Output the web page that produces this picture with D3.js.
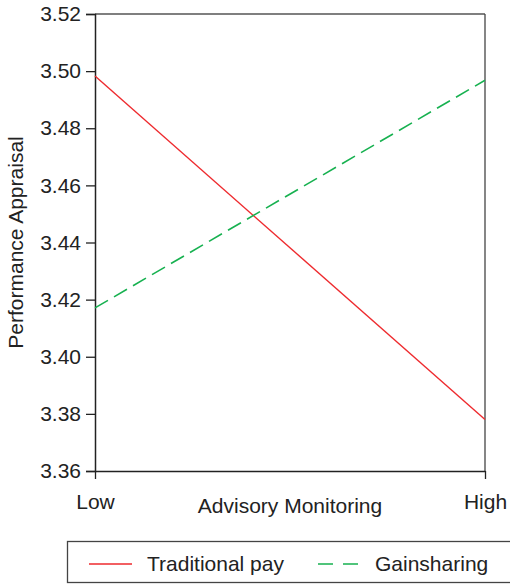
<!DOCTYPE html>
<html>
<head>
<meta charset="utf-8">
<script src="https://cdn.jsdelivr.net/npm/d3@7"></script>
<style>
body { margin: 0; background: #fff; }
text { font-family: "Liberation Sans", Arial, sans-serif; fill: #222; }
</style>
</head>
<body>
<div id="chart"></div>
<script>
// data
var levels = ["Low", "High"];
var traditionalPay = [3.4983, 3.378];
var gainsharing = [3.4171, 3.4968];
var yTicks = [3.36, 3.38, 3.40, 3.42, 3.44, 3.46, 3.48, 3.50, 3.52];

var svgWidth = 510;
var svgHeight = 584;

var margin = { top: 14, right: 25, bottom: 113, left: 95 };
var width = svgWidth - margin.left - margin.right;
var height = svgHeight - margin.top - margin.bottom;

var svg = d3.select("#chart")
.append("svg")
.attr("width", svgWidth)
.attr("height", svgHeight);

var chartGroup = svg.append("g")
.attr("transform", `translate(${margin.left},${margin.top})`);

var xScale = d3.scalePoint()
.domain(levels)
.range([0, width]);

var yScale = d3.scaleLinear()
.domain([3.36, 3.52])
.range([height, 0]);

// frame: top and right in grey
chartGroup.append("line")
.attr("x1", 0).attr("x2", width).attr("y1", 0).attr("y2", 0)
.attr("stroke", "#555").attr("stroke-width", 1.3);
chartGroup.append("line")
.attr("x1", width).attr("x2", width).attr("y1", 0).attr("y2", height)
.attr("stroke", "#444").attr("stroke-width", 1.3);

var leftAxis = d3.axisLeft(yScale)
.tickValues(yTicks)
.tickFormat(d3.format(".2f"))
.tickSize(9)
.tickPadding(5);

var yAxis = chartGroup.append("g").call(leftAxis);
yAxis.select(".domain").attr("stroke", "#222").attr("stroke-width", 1.5);
yAxis.selectAll(".tick line").attr("stroke", "#222").attr("stroke-width", 1.3);
yAxis.selectAll("text")
.attr("font-size", "21px")
.attr("font-family", "Liberation Sans, Arial, sans-serif")
.attr("fill", "#222");

var bottomAxis = d3.axisBottom(xScale)
.tickSize(8)
.tickPadding(15)
.tickSizeOuter(0);

var xAxis = chartGroup.append("g")
.attr("transform", `translate(0, ${height})`)
.call(bottomAxis);
xAxis.select(".domain").attr("stroke", "#222").attr("stroke-width", 1.5);
xAxis.selectAll(".tick line").attr("stroke", "#222").attr("stroke-width", 1.3);
xAxis.selectAll("text")
.attr("font-size", "21px")
.attr("font-family", "Liberation Sans, Arial, sans-serif")
.attr("fill", "#222");

chartGroup.append("text")
.attr("x", width / 2)
.attr("y", height + 42)
.attr("text-anchor", "middle")
.attr("font-size", "21px")
.text("Advisory Monitoring");

chartGroup.append("text")
.attr("transform", "rotate(-90)")
.attr("x", 0 - height / 2)
.attr("y", 0 - margin.left + 23)
.attr("text-anchor", "middle")
.attr("font-size", "21px")
.text("Performance Appraisal");

var line = d3.line()
.x((d, i) => xScale(levels[i]))
.y(d => yScale(d));

chartGroup.append("path")
.datum(traditionalPay)
.attr("d", line)
.attr("fill", "none")
.attr("stroke", "#ee2a2e")
.attr("stroke-width", 1.4);

chartGroup.append("path")
.datum(gainsharing)
.attr("d", line)
.attr("fill", "none")
.attr("stroke", "#17b150")
.attr("stroke-width", 1.6)
.attr("stroke-dasharray", "15,7");

// legend
var legend = svg.append("g");
legend.append("rect")
.attr("x", 67.5).attr("y", 541.5)
.attr("width", 460).attr("height", 41)
.attr("fill", "none")
.attr("stroke", "#444")
.attr("stroke-width", 1.3);

legend.append("line")
.attr("x1", 89).attr("x2", 132).attr("y1", 564).attr("y2", 564)
.attr("stroke", "#ee2a2e").attr("stroke-width", 1.4);
legend.append("text")
.attr("x", 147).attr("y", 571)
.attr("font-size", "21px")
.text("Traditional pay");

legend.append("line")
.attr("x1", 318).attr("x2", 358).attr("y1", 564).attr("y2", 564)
.attr("stroke", "#17b150").attr("stroke-width", 1.6)
.attr("stroke-dasharray", "15,10");
legend.append("text")
.attr("x", 375).attr("y", 571)
.attr("font-size", "21px")
.text("Gainsharing");
</script>
</body>
</html>
